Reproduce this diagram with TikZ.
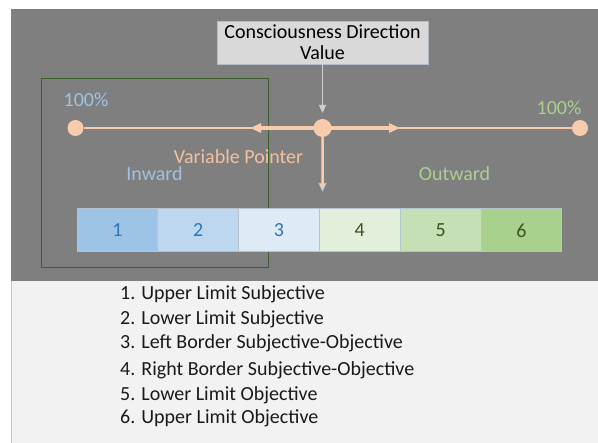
\documentclass[tikz,border=0pt]{standalone}
\usepackage{fontspec}
\setmainfont{Carlito}
\usetikzlibrary{arrows.meta,calc}
\definecolor{bggray}{HTML}{7F7F7F}
\definecolor{lightbg}{HTML}{F2F2F2}
\definecolor{lightedge}{HTML}{C8C8C8}
\definecolor{boxfill}{HTML}{D9D9D9}
\definecolor{boxedge}{HTML}{B4BCC8}
\definecolor{peach}{HTML}{F8CBAD}
\definecolor{peachtext}{HTML}{F4C0A0}
\definecolor{lblue}{HTML}{9DC3E6}
\definecolor{lgreen}{HTML}{A9D18E}
\definecolor{framegreen}{HTML}{3B5E2B}
\definecolor{arrowgray}{HTML}{D0D0D0}
\definecolor{cellA}{HTML}{9DC3E6}
\definecolor{cellB}{HTML}{BDD7EE}
\definecolor{cellC}{HTML}{DEEBF7}
\definecolor{cellD}{HTML}{E2EFDA}
\definecolor{cellE}{HTML}{C5E0B4}
\definecolor{cellF}{HTML}{A9D18E}
\definecolor{numblue}{HTML}{2E75B6}
\definecolor{numgreen}{HTML}{375623}
\definecolor{celledge}{HTML}{B8C2CE}
\definecolor{listtext}{HTML}{1A1A1A}
\tikzset{
  txt/.style={font=\fontsize{20}{22}\selectfont, inner sep=0pt},
  cdvbox/.style={txt, fill=boxfill, draw=boxedge, line width=0.8pt, minimum width=211pt, minimum height=43pt, align=center, text=black},
  dot/.style={circle, fill=peach, minimum size=16pt, inner sep=0pt},
  cell/.style={txt, draw=celledge, line width=1pt, minimum width=80.8pt, minimum height=43pt},
  listitem/.style={txt, anchor=west, text=listtext}
}
\begin{document}
\begin{tikzpicture}[x=1pt,y=-1pt]
\useasboundingbox (0,0) rectangle (598,443);
\fill[white] (0,0) rectangle (598,443);
\fill[bggray] (11,9) rectangle (598,281);
\fill[lightbg] (11,281) rectangle (598,443);
\draw[lightedge, line width=0.8pt] (11.4,281) -- (11.4,443);

% frame
\node[draw=framegreen, line width=1pt, minimum width=227pt, minimum height=189pt, inner sep=0pt] (frame) at (154.5,173.5) {};

% title box
\node[cdvbox] (cdv) at (322.5,42.5) {Consciousness Direction\\[-1pt]Value};

% circles
\node[dot] (cl) at (75.5,128) {};
\node[dot] (cr) at (580,128) {};
\draw[peach, line width=1.5pt] (cl) -- (cr);
\coordinate (al) at (250,128);
\coordinate (ar) at (400,128);
\draw[peach, line width=4pt, {Triangle[length=11pt,width=9pt]}-{Triangle[length=11pt,width=9pt]}] (al) -- (ar);
\node[dot, minimum size=18pt] (cm) at (322.5,128) {};

% gray arrow
\coordinate (ga) at (322.5,113);
\draw[arrowgray, line width=0.9pt, -{Triangle[length=8pt,width=7pt]}] (cdv.south) -- (ga);

% vertical pointer arrow
\coordinate (vp) at (322.5,192);
\draw[lblue, line width=3.4pt, -{Triangle[length=9pt,width=7.5pt]}] (cm.south) -- (vp);
\draw[peach, line width=2pt, -{Triangle[length=7pt,width=5.2pt]}, shorten >=1.2pt] (cm.south) -- (vp);

% labels
\node[txt, text=lblue] (pl) at (86,100) {100\%};
\node[txt, text=lgreen] (pr) at (559,108) {100\%};
\node[txt, text=peachtext] (vpl) at (238.5,157) {Variable Pointer};
\node[txt, text=lblue] (inw) at (154.5,174) {Inward};
\node[txt, text=lgreen] (outw) at (454.5,174) {Outward};

% bar
\node[cell, fill=cellA, text=numblue] (c1) at (117.4,230.5) {1};
\node[cell, fill=cellB, text=numblue] (c2) at (198.2,230.5) {2};
\node[cell, fill=cellC, text=numblue] (c3) at (279.0,230.5) {3};
\node[cell, fill=cellD, text=numgreen] (c4) at (359.8,230.5) {4};
\node[cell, fill=cellE, text=numgreen] (c5) at (440.6,230.5) {5};
\node[cell, fill=cellF, text=numgreen] (c6) at (521.4,230.5) {6};

% list
\node[listitem] (l1) at (120,294) {1. Upper Limit Subjective};
\node[listitem] (l2) at (120,319) {2. Lower Limit Subjective};
\node[listitem] (l3) at (120,343) {3. Left Border Subjective-Objective};
\node[listitem] (l4) at (120,370) {4. Right Border Subjective-Objective};
\node[listitem] (l5) at (120,395) {5. Lower Limit Objective};
\node[listitem] (l6) at (120,418) {6. Upper Limit Objective};
\end{tikzpicture}
\end{document}
